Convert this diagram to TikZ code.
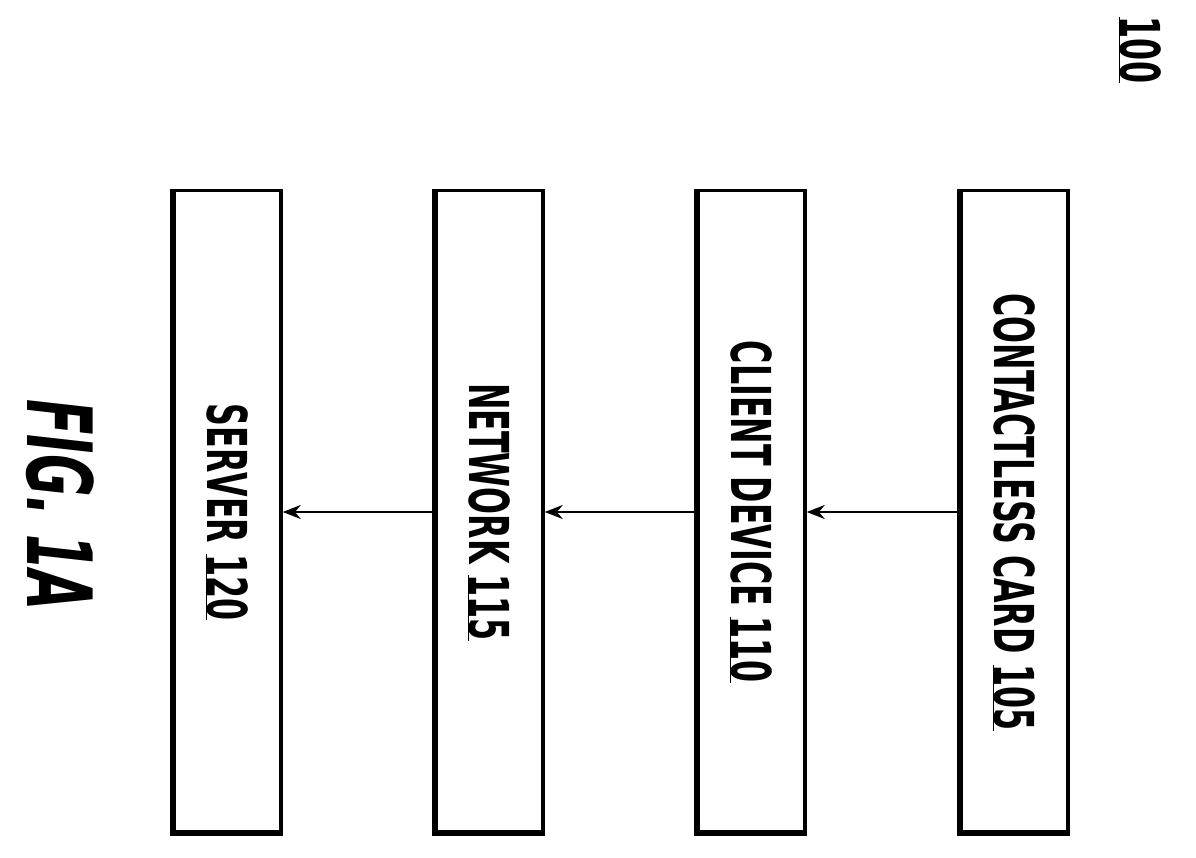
\documentclass[tikz,border=0pt]{standalone}
\usepackage{fontspec}
\setmainfont{DejaVu Sans Condensed}[FakeStretch=0.64]
\usetikzlibrary{arrows.meta}
\begin{document}
\begin{tikzpicture}[x=1pt,y=-1pt,
  box/.style={draw,line width=3.5pt,minimum width=108pt,minimum height=643pt,inner sep=0pt},
  lbl/.style={rotate=-90,font=\fontsize{55}{60}\selectfont\bfseries},
  arr/.style={-{Stealth[length=18pt,width=14pt]},line width=2.5pt}]
\useasboundingbox (0,0) rectangle (1196,857);
\fill[white] (0,0) rectangle (1196,857);
\node[box] (b1) at (227,512) {};
\node[box] (b2) at (489,512) {};
\node[box] (b3) at (751,512) {};
\node[box] (b4) at (1014,512) {};
\foreach \b in {b1,b2,b3,b4}{
  \draw[line width=6pt] ([xshift=1.5pt]\b.north west) -- ([xshift=1.5pt,yshift=2pt]\b.south west) -- ([yshift=2pt]\b.south east);
}
\node[lbl] (t1) at (b1.center) {SERVER \underline{120}};
\node[lbl] (t2) at (b2.center) {NETWORK \underline{115}};
\node[lbl] (t3) at (b3.center) {CLIENT DEVICE \underline{110}};
\node[lbl] (t4) at (b4.center) {CONTACTLESS CARD \underline{105}};
\draw[arr] (b4.west) -- (b3.east);
\draw[arr] (b3.west) -- (b2.east);
\draw[arr] (b2.west) -- (b1.east);
\node[rotate=-90,font=\fontsize{55}{60}\selectfont\bfseries] (n100) at (1140,50) {\underline{100}};
\node[rotate=-90,font=\fontsize{90}{96}\selectfont\bfseries\itshape] (fig) at (60,505) {FIG. 1A};
\end{tikzpicture}
\end{document}
